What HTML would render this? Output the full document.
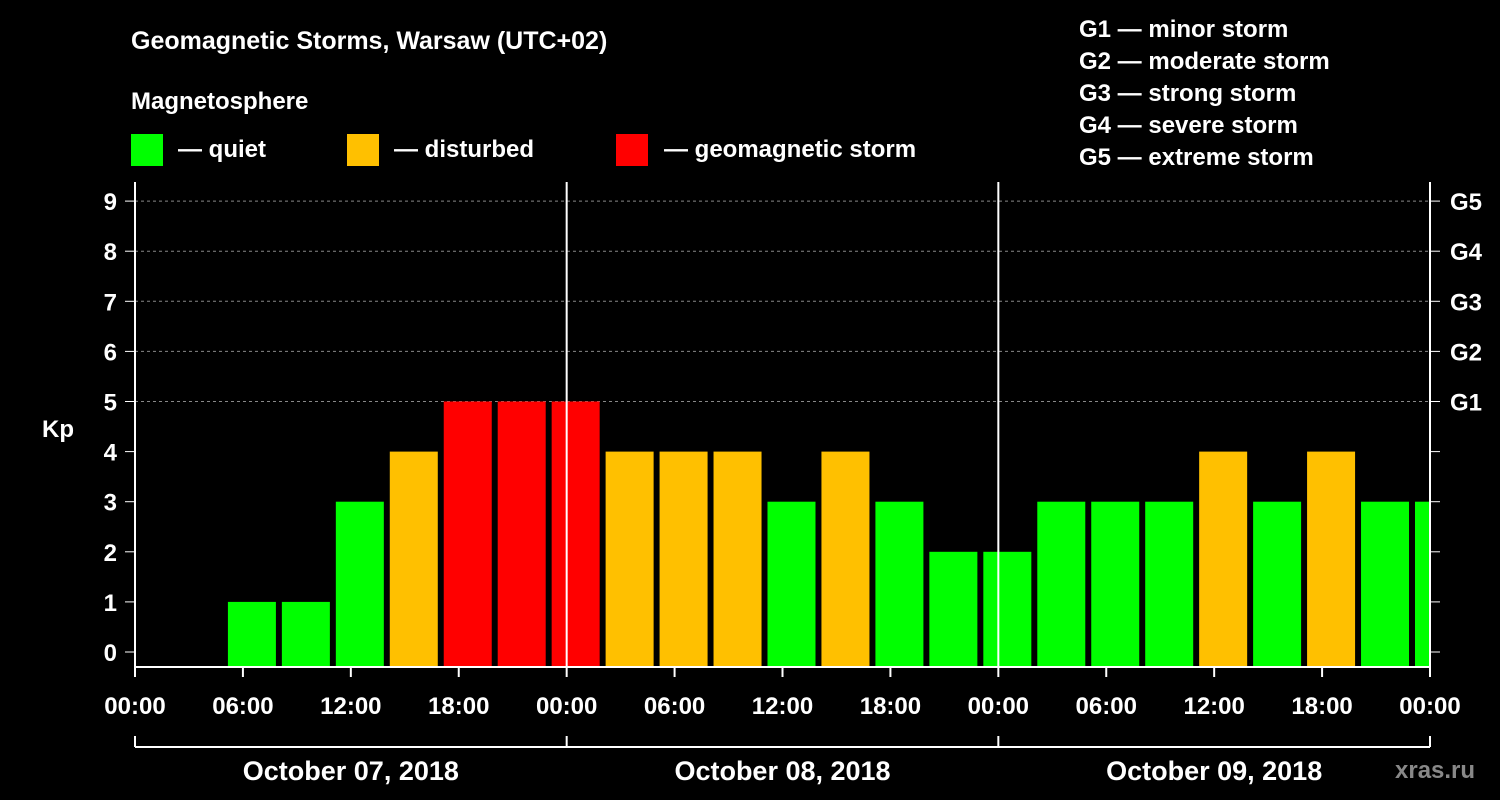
<!DOCTYPE html>
<html><head><meta charset="utf-8"><style>
html,body{margin:0;padding:0;background:#000;}
svg{display:block;font-family:"Liberation Sans",Arial,sans-serif;font-weight:bold;}
</style></head><body>
<svg id="chart" width="1500" height="800" viewBox="0 0 1500 800" xmlns="http://www.w3.org/2000/svg">
<rect x="0" y="0" width="1500" height="800" fill="#000"/>
<text x="131" y="49" fill="#fff" font-size="25">Geomagnetic Storms, Warsaw (UTC+02)</text>
<text x="131" y="109" fill="#fff" font-size="24">Magnetosphere</text>
<g>
<rect x="131" y="134" width="32" height="32" fill="#00ff00"/>
<text x="178" y="157" fill="#fff" font-size="24">— quiet</text>
<rect x="347" y="134" width="32" height="32" fill="#ffc000"/>
<text x="394" y="157" fill="#fff" font-size="24">— disturbed</text>
<rect x="616" y="134" width="32" height="32" fill="#ff0000"/>
<text x="664" y="157" fill="#fff" font-size="24">— geomagnetic storm</text>
</g>
<g fill="#fff" font-size="24">
<text x="1079" y="37">G1 — minor storm</text>
<text x="1079" y="69">G2 — moderate storm</text>
<text x="1079" y="101">G3 — strong storm</text>
<text x="1079" y="133">G4 — severe storm</text>
<text x="1079" y="165">G5 — extreme storm</text>
</g>
<text x="42" y="437" fill="#fff" font-size="24">Kp</text>
<g id="grid"></g>
<g id="bars"></g>
<g id="axes"></g>
<text x="1395" y="778" fill="#888" font-size="24">xras.ru</text>
</svg>
<script>
const kpValues = [0,0,1,1,3,4,5,5,5,4,4,4,3,4,3,2,2,3,3,3,4,3,4,3,3];
const yTicks = [0,1,2,3,4,5,6,7,8,9];
const gLabels = ["G1","G2","G3","G4","G5"];
const gLevels = [5,6,7,8,9];
const xTickLabels = ["00:00","06:00","12:00","18:00","00:00","06:00","12:00","18:00","00:00","06:00","12:00","18:00","00:00"];
const dayLabels = ["October 07, 2018","October 08, 2018","October 09, 2018"];

const NS="http://www.w3.org/2000/svg";
const X0=135, X1=1430, TOP=182, BOT=667;
const totalHours=72;
function xs(h){return X0+(X1-X0)*h/totalHours;}
function ys(v){return 652-50.1*v;}
function mk(tag,attrs,parent){const e=document.createElementNS(NS,tag);for(const k in attrs)e.setAttribute(k,attrs[k]);parent.appendChild(e);return e;}
const grid=document.getElementById('grid'), bars=document.getElementById('bars'), axes=document.getElementById('axes');

gLevels.forEach((v,i)=>{
  const l=mk('line',{x1:X0,x2:X1,y1:ys(v),y2:ys(v),stroke:'#888','stroke-dasharray':'3,3','stroke-width':1},grid);
  
  
  const t=mk('text',{x:1450,y:ys(v)+9,fill:'#fff','font-size':24},axes);
  t.textContent=gLabels[i];
  
  
});

const clip=mk('clipPath',{id:'pc'},document.getElementById('chart'));
mk('rect',{x:X0,y:TOP,width:X1-X0,height:BOT-TOP},clip);
bars.setAttribute('clip-path','url(#pc)');
const barW=48;
kpValues.forEach((v,k)=>{
  if(v<=0)return;
  const c=xs(3*k+0.5);
  const color=v>=5?'#ff0000':(v>=4?'#ffc000':'#00ff00');
  const r=mk('rect',{x:c-barW/2,y:ys(v),width:barW,height:BOT-ys(v),fill:color},bars);
  
  
});

// day separators
[24,48].forEach(h=>{
  const l=mk('line',{x1:xs(h),x2:xs(h),y1:TOP,y2:BOT,stroke:'#fff','stroke-width':2},axes);
  
  
});
// axis lines
const axl=[[X0,TOP,X0,BOT],[X1,TOP,X1,BOT],[X0,BOT,X1,BOT]];
axl.forEach(a=>{
  const l=mk('line',{x1:a[0],y1:a[1],x2:a[2],y2:a[3],stroke:'#fff','stroke-width':2},axes);
  
  
});
yTicks.forEach(v=>{
  mk('line',{x1:X0-10,x2:X0,y1:ys(v),y2:ys(v),stroke:'#fff','stroke-width':1},axes);
  mk('line',{x1:X1,x2:X1+10,y1:ys(v),y2:ys(v),stroke:'#fff','stroke-width':1},axes);
  const t=mk('text',{x:117,y:ys(v)+9,fill:'#fff','font-size':24,'text-anchor':'end'},axes);
  t.textContent=v;
  
  
});
xTickLabels.forEach((s,i)=>{
  const x=xs(i*6);
  mk('line',{x1:x,x2:x,y1:BOT,y2:BOT+10,stroke:'#fff','stroke-width':2},axes);
  const t=mk('text',{x:x,y:714,fill:'#fff','font-size':24,'text-anchor':'middle'},axes);
  t.textContent=s;
  
  
});
mk('line',{x1:X0,x2:X1,y1:747,y2:747,stroke:'#fff','stroke-width':2},axes);
[0,24,48,72].forEach(h=>mk('line',{x1:xs(h),x2:xs(h),y1:736,y2:747,stroke:'#fff','stroke-width':2},axes));
dayLabels.forEach((s,i)=>{
  const t=mk('text',{x:xs(i*24+12),y:780,fill:'#fff','font-size':27,'text-anchor':'middle'},axes);
  t.textContent=s;
  
  
});
</script>
</body></html>
